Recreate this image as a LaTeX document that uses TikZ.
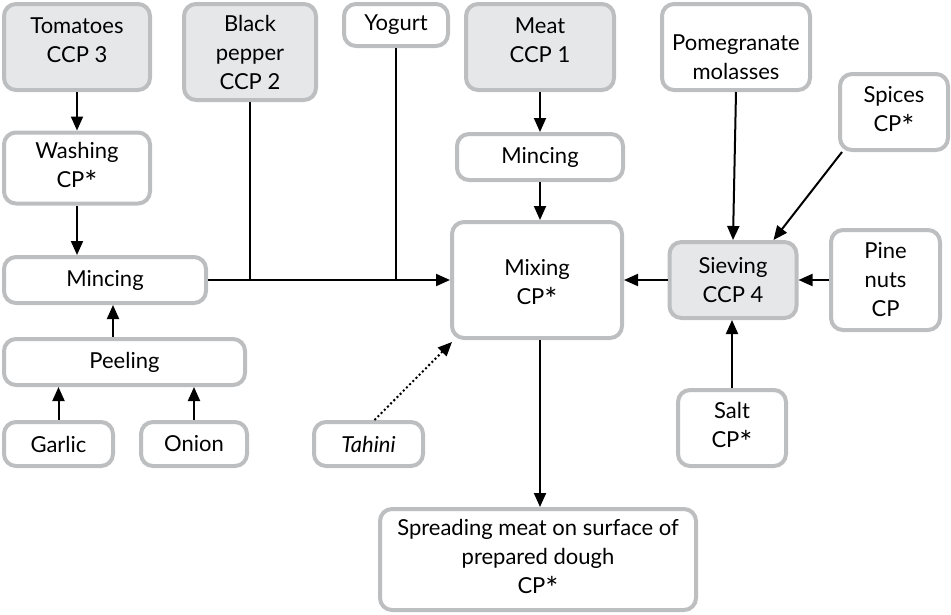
\documentclass[tikz,border=0pt]{standalone}
\usepackage{fontspec}
\usepackage{graphicx}
\setmainfont{Lato}
\usetikzlibrary{arrows.meta}
\definecolor{boxline}{HTML}{BCBEC0}
\definecolor{boxfill}{HTML}{E6E7E8}
% larger, cap-aligned asterisk for the CP* marks
\newcommand\cpst{\raisebox{-0.27em}{\scalebox{1.4}{*}}}
\begin{document}
\begin{tikzpicture}[x=1pt,y=-1pt,
  box/.style={draw=boxline, line width=4pt, rounded corners=12pt, fill=white,
    align=center, inner sep=2pt, font=\fontsize{22}{29}\selectfont},
  ccp/.style={box, fill=boxfill},
  txt/.style={align=center, inner sep=0pt, font=\fontsize{22}{29}\selectfont},
  arr/.style={line width=2pt, -{Triangle[length=14pt,width=12pt]}},
  plain/.style={line width=2pt}]
\useasboundingbox (0,0) rectangle (951,614);

% ingredient and process boxes
\node[ccp, minimum width=146, minimum height=86] (tom) at (77,47) {};
\node[txt] (tomT) at (77,40) {Tomatoes\\CCP 3};
\node[ccp, minimum width=132, minimum height=96] (pep) at (250,52) {Black\\pepper\\CCP 2};
\node[box, minimum width=104, minimum height=42] (yog) at (396,25) {Yogurt};
\node[ccp, minimum width=148, minimum height=86] (meat) at (540,47) {};
\node[txt] (meatT) at (540,40) {Meat\\CCP 1};
\node[box, minimum width=148, minimum height=86] (pom) at (736,47) {};
\node[txt] (pomT) at (736,57) {Pomegranate\\molasses};
\node[box, minimum width=108, minimum height=76] (spi) at (894,112) {Spices\\CP\cpst};
\node[box, minimum width=146, minimum height=71] (wash) at (77,168) {Washing\\CP\cpst};
\node[box, minimum width=166, minimum height=46] (mince2) at (540,157) {Mincing};
\node[box, minimum width=202, minimum height=46] (mince1) at (105,280) {Mincing};
\node[box, minimum width=170, minimum height=116] (mix) at (537,280) {};
\node[txt] (mixT) at (537,285) {Mixing\\CP\cpst};
\node[ccp, minimum width=127, minimum height=76] (sieve) at (733,280) {Sieving\\CCP 4};
\node[box, minimum width=109, minimum height=100] (pine) at (885.5,280) {Pine\\nuts\\CP};
\node[box, minimum width=241, minimum height=46] (peel) at (124.5,362) {Peeling};
\node[box, minimum width=109, minimum height=44] (gar) at (58.5,444) {Garlic};
\node[box, minimum width=106, minimum height=44] (oni) at (194,444) {Onion};
\node[box, minimum width=109, minimum height=44] (tah) at (368.5,444) {\itshape Tahini};
\node[box, minimum width=108, minimum height=76] (salt) at (732,428) {Salt\\CP\cpst};
\node[box, minimum width=316, minimum height=101] (spread) at (538,559.5)
  {Spreading meat on surface of\\prepared dough\\CP\cpst};

% flow connectors
\draw[arr] (tom.south) -- (wash.north);
\draw[arr] (wash.south) -- (wash.south |- mince1.north);
\draw[arr] ([xshift=-11.5pt]peel.north) -- ([xshift=-11.5pt]peel.north |- mince1.south);
\draw[arr] (gar.north) -- (gar.north |- peel.south);
\draw[arr] (oni.north) -- (oni.north |- peel.south);
\draw[arr] (mince1.east) -- (mix.west);
\draw[plain] (pep.south) -- (pep.south |- mince1.east);
\draw[plain] (yog.south) -- (yog.south |- mince1.east);
\draw[arr] (meat.south) -- (mince2.north);
\draw[arr] (mince2.south) -- (mince2.south |- mix.north);
\draw[arr] (sieve.west) -- (mix.east);
\draw[arr] (pine.west) -- (sieve.east);
\draw[arr] (pom.south) -- (sieve.north);
\draw[arr] ([xshift=4pt]spi.south west) -- ([xshift=-25pt]sieve.north east);
\draw[arr] (salt.north) -- (salt.north |- sieve.south);
\draw[arr] ([xshift=3pt]mix.south) -- ([xshift=3pt]mix.south |- spread.north);
\draw[arr, dash pattern=on 2pt off 2.5pt] ([xshift=6pt]tah.north) -- ([shift={(2pt,-2pt)}]mix.south west);
\end{tikzpicture}
\end{document}
